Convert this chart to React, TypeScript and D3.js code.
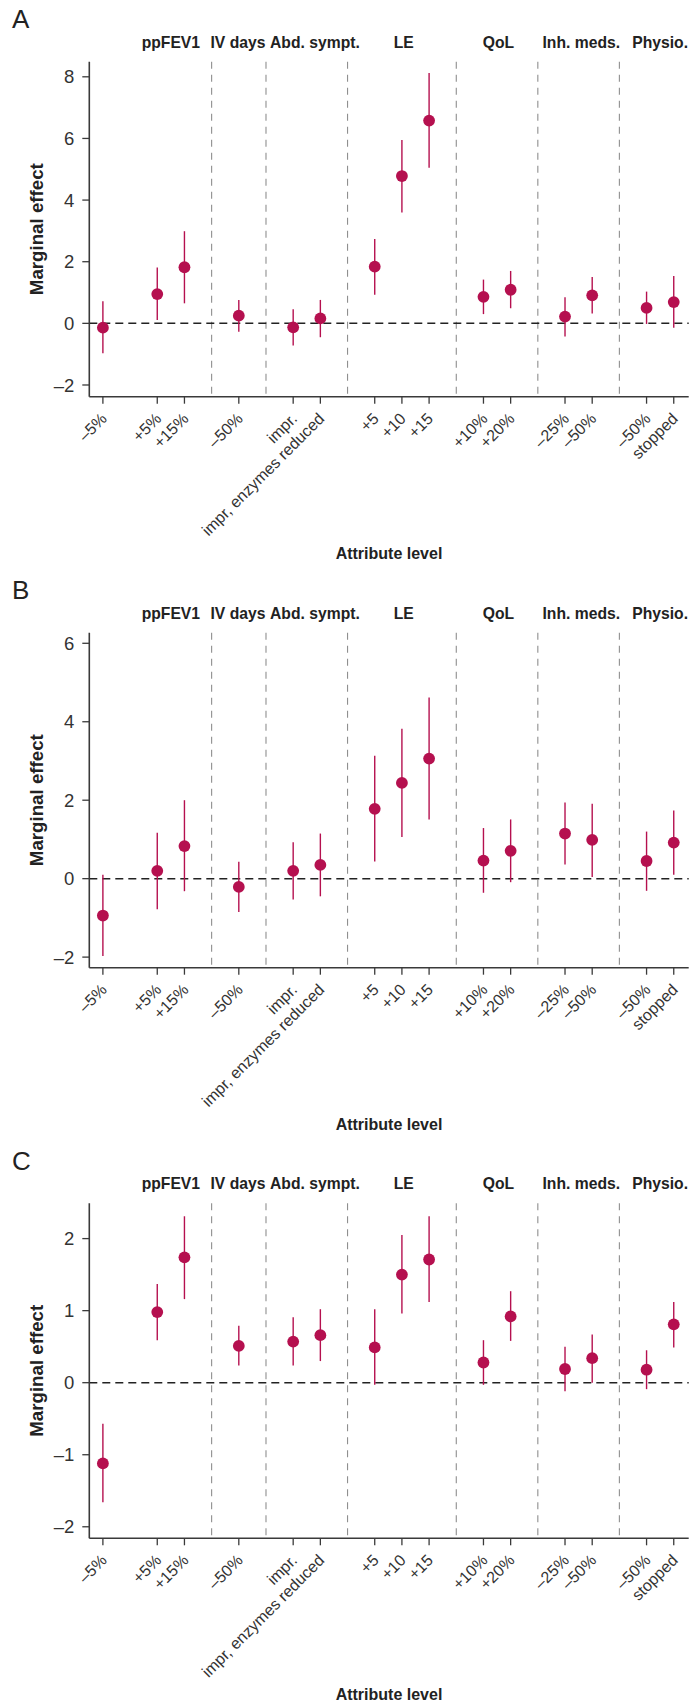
import React from 'react';
import * as d3 from 'd3';

// attribute levels (reference levels are left out, so positions skip them)
const levels = ['–5%', '+5%', '+15%', '–50%', 'impr.', 'impr, enzymes reduced', '+5', '+10', '+15', '+10%', '+20%', '–25%', '–50%', '–50%', 'stopped'];
const levelPos = [0, 2, 3, 5, 7, 8, 10, 11, 12, 14, 15, 17, 18, 20, 21];
const groups = ['ppFEV1', 'IV days', 'Abd. sympt.', 'LE', 'QoL', 'Inh. meds.', 'Physio.'];
const groupLabelPos = [2.5, 4.97, 7.8, 11.07, 14.55, 17.6, 20.5];
const separators = [4, 6, 9, 13, 16, 19];

const estA = [-0.14, 0.95, 1.82, 0.25, -0.13, 0.16, 1.84, 4.78, 6.58, 0.86, 1.09, 0.22, 0.91, 0.5, 0.69];
const loA = [-0.97, 0.11, 0.65, -0.27, -0.72, -0.45, 0.93, 3.6, 5.05, 0.3, 0.49, -0.43, 0.32, -0.02, -0.14];
const hiA = [0.72, 1.81, 2.99, 0.76, 0.46, 0.76, 2.74, 5.95, 8.12, 1.42, 1.7, 0.85, 1.5, 1.03, 1.54];

const estB = [-0.94, 0.2, 0.83, -0.21, 0.2, 0.35, 1.78, 2.44, 3.06, 0.46, 0.71, 1.15, 0.99, 0.45, 0.92];
const loB = [-1.97, -0.78, -0.32, -0.85, -0.53, -0.45, 0.44, 1.06, 1.51, -0.36, -0.09, 0.36, 0.04, -0.31, 0.1];
const hiB = [0.1, 1.17, 2.0, 0.43, 0.93, 1.15, 3.13, 3.82, 4.62, 1.29, 1.51, 1.94, 1.91, 1.2, 1.74];

const estC = [-1.12, 0.98, 1.74, 0.51, 0.57, 0.66, 0.49, 1.5, 1.71, 0.28, 0.92, 0.19, 0.34, 0.18, 0.81];
const loC = [-1.66, 0.59, 1.16, 0.24, 0.24, 0.3, -0.03, 0.96, 1.12, -0.03, 0.58, -0.12, 0.0, -0.09, 0.49];
const hiC = [-0.57, 1.37, 2.31, 0.79, 0.91, 1.02, 1.02, 2.05, 2.31, 0.59, 1.27, 0.5, 0.67, 0.45, 1.12];

const ticksA = [-2, 0, 2, 4, 6, 8];
const ticksB = [-2, 0, 2, 4, 6];
const ticksC = [-2, -1, 0, 1, 2];

const FONT = '"Liberation Sans", Arial, Helvetica, sans-serif';
const RED = '#b5104f';
const AXIS = '#3a3a3a';

const x = d3.scaleLinear().domain([-0.5, 21.55]).range([89.3, 688.7]);
const plotH = 335;

const fmt = (v: number) => (v < 0 ? '–' + Math.abs(v) : String(v));

type PanelProps = {
  letter: string;
  top: number;
  domain: [number, number];
  ticks: number[];
  est: number[];
  lo: number[];
  hi: number[];
};

const Panel = ({ letter, top, domain, ticks, est, lo, hi }: PanelProps) => {
  const y = d3.scaleLinear().domain(domain).range([top + plotH, top]);
  const bottom = top + plotH;
  const x0 = x.range()[0];
  const x1 = x.range()[1];
  return (
    <g>
      <text x={12} y={top - 33.5} fontSize={26} fill="#222" fontFamily={FONT}>{letter}</text>
      {groups.map((g, i) => (
        <text key={g} x={x(groupLabelPos[i])} y={top - 14} textAnchor="middle" fontSize={15.7} fontWeight="bold" fill="#222" fontFamily={FONT}>{g}</text>
      ))}
      {separators.map(s => (
        <line key={s} x1={x(s)} x2={x(s)} y1={top} y2={bottom} stroke="#8f8f8f" strokeWidth={1.1} strokeDasharray="7,6" />
      ))}
      <line x1={x0} x2={x1} y1={y(0)} y2={y(0)} stroke="#222" strokeWidth={1.5} strokeDasharray="8,5" />
      {/* y axis */}
      <line x1={x0} x2={x0} y1={top} y2={bottom} stroke={AXIS} strokeWidth={1.6} />
      {ticks.map(t => (
        <g key={t}>
          <line x1={x0 - 7} x2={x0} y1={y(t)} y2={y(t)} stroke={AXIS} strokeWidth={1.3} />
          <text x={x0 - 15} y={y(t)} dy="0.36em" textAnchor="end" fontSize={18.5} fill="#333" fontFamily={FONT}>{fmt(t)}</text>
        </g>
      ))}
      <text transform={`translate(43,${top + plotH / 2}) rotate(-90)`} textAnchor="middle" fontSize={18.7} fontWeight="bold" fill="#222" fontFamily={FONT}>Marginal effect</text>
      {/* x axis */}
      <line x1={x0} x2={x1} y1={bottom} y2={bottom} stroke={AXIS} strokeWidth={1.6} />
      {levels.map((l, i) => {
        const px = x(levelPos[i]);
        return (
          <g key={i}>
            <line x1={px} x2={px} y1={bottom} y2={bottom + 7} stroke={AXIS} strokeWidth={1.3} />
            <text transform={`translate(${px + 5},${bottom + 23}) rotate(-45)`} textAnchor="end" fontSize={16} fill="#333" fontFamily={FONT}>{l}</text>
          </g>
        );
      })}
      <text x={(x0 + x1) / 2} y={bottom + 162} textAnchor="middle" fontSize={16} fontWeight="bold" fill="#222" fontFamily={FONT}>Attribute level</text>
      {/* estimates with confidence intervals */}
      {est.map((v, i) => (
        <g key={i}>
          <line x1={x(levelPos[i])} x2={x(levelPos[i])} y1={y(lo[i])} y2={y(hi[i])} stroke={RED} strokeWidth={1.4} />
          <circle cx={x(levelPos[i])} cy={y(v)} r={5.9} fill={RED} />
        </g>
      ))}
    </g>
  );
};

export default function App() {
  return (
    <svg width={690} height={1706} style={{ position: 'absolute', left: 0, top: 0, background: '#fff' }}>
      <Panel letter="A" top={61.7} domain={[-2.38, 8.49]} ticks={ticksA} est={estA} lo={loA} hi={hiA} />
      <Panel letter="B" top={632.7} domain={[-2.27, 6.27]} ticks={ticksB} est={estB} lo={loB} hi={hiB} />
      <Panel letter="C" top={1203.3} domain={[-2.16, 2.49]} ticks={ticksC} est={estC} lo={loC} hi={hiC} />
    </svg>
  );
}
